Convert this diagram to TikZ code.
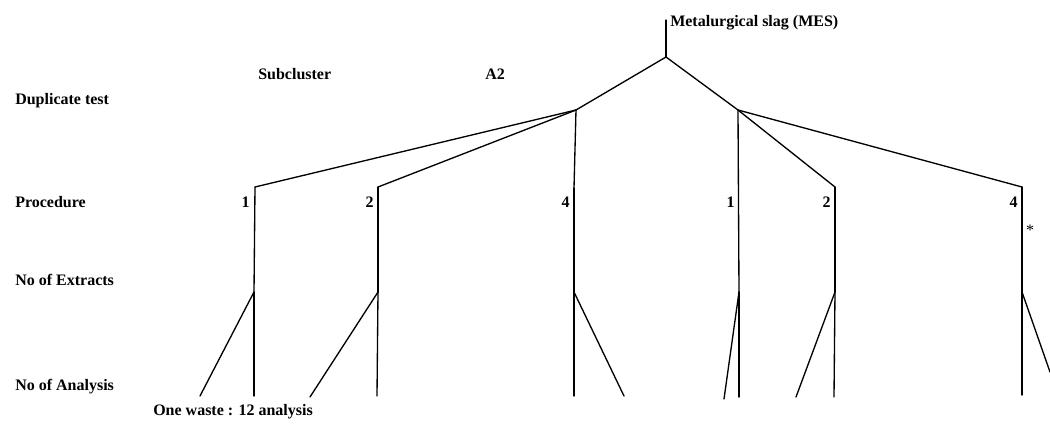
\documentclass[tikz,border=0pt]{standalone}
\usepackage{fontspec}
\setmainfont{Liberation Serif}
\begin{document}
\begin{tikzpicture}[x=0.75pt,y=-0.75pt,
  lbl/.style={font=\fontsize{12}{14}\selectfont\bfseries,inner sep=0pt,anchor=base west},
  num/.style={font=\fontsize{12}{14}\selectfont\bfseries,inner sep=0pt,anchor=base east},
  edge/.style={line width=1pt,line cap=round}]
\useasboundingbox (0,0) rectangle (1050,426);
% labels
\node[lbl] (title) at (670,26) {Metalurgical slag (MES)};
\node[lbl] (sub) at (258,79) {Subcluster};
\node[lbl] (a2) at (485,79) {A2};
\node[lbl] (dup) at (15,104) {Duplicate test};
\node[lbl] (proc) at (15,207) {Procedure};
\node[lbl] (ext) at (15,285) {No of Extracts};
\node[lbl] (ana) at (15,390) {No of Analysis};
\node[lbl] (waste) at (153,415) {One waste : 12 analysis};
\node[num] (n1) at (250,207) {1};
\node[num] (n2) at (374,207) {2};
\node[num] (n4) at (570,207) {4};
\node[num] (m1) at (735,207) {1};
\node[num] (m2) at (831,207) {2};
\node[num] (m4) at (1018,207) {4};
\node[font=\fontsize{12}{14}\selectfont,inner sep=0pt] (star) at (1030,230) {*};
% junctions
\coordinate (top) at (666,20);
\coordinate (root) at (666,57);
\coordinate (L) at (576,110);
\coordinate (R) at (738,110);
\coordinate (p1) at (255,187);
\coordinate (p2) at (378,187);
\coordinate (p4) at (574,188);
\coordinate (q2) at (835,187);
\coordinate (q4) at (1022,187);
\coordinate (e1) at (254,292);
\coordinate (e2) at (378,292);
\coordinate (e4) at (574,292);
\coordinate (f1) at (739,292);
\coordinate (f2) at (835,292);
\coordinate (f4) at (1022,292);
\coordinate (a1a) at (200,396);
\coordinate (a1b) at (254,396);
\coordinate (a2a) at (310,397);
\coordinate (a2b) at (377,396);
\coordinate (a4a) at (574,396);
\coordinate (a4b) at (624,396);
\coordinate (b1a) at (724,399);
\coordinate (b1b) at (739,397);
\coordinate (b2a) at (796,397);
\coordinate (b2b) at (834,397);
\coordinate (b4a) at (1022,395);
\coordinate (b4b) at (1050,372);
% connectors
\draw[edge] (top) -- (root);
\draw[edge] (root) -- (L);
\draw[edge] (root) -- (R);
\draw[edge] (L) -- (p1);
\draw[edge] (L) -- (p2);
\draw[edge] (L) -- (p4);
\draw[edge] (R) -- (f1);
\draw[edge] (R) -- (q2);
\draw[edge] (R) -- (q4);
\draw[edge] (p1) -- (e1);
\draw[edge] (p2) -- (e2);
\draw[edge] (p4) -- (e4);
\draw[edge] (q2) -- (f2);
\draw[edge] (q4) -- (f4);
\draw[edge] (e1) -- (a1a);
\draw[edge] (e1) -- (a1b);
\draw[edge] (e2) -- (a2a);
\draw[edge] (e2) -- (a2b);
\draw[edge] (e4) -- (a4a);
\draw[edge] (e4) -- (a4b);
\draw[edge] (f1) -- (b1a);
\draw[edge] (f1) -- (b1b);
\draw[edge] (f2) -- (b2a);
\draw[edge] (f2) -- (b2b);
\draw[edge] (f4) -- (b4a);
\draw[edge] (f4) -- (b4b);
\end{tikzpicture}
\end{document}
